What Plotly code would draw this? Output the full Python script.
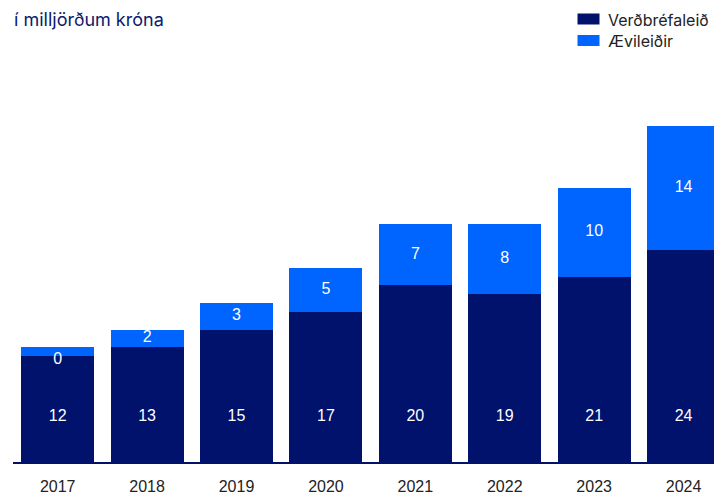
import plotly.graph_objects as go

years = ["2017", "2018", "2019", "2020", "2021", "2022", "2023", "2024"]
verdbref = [12, 13, 15, 17, 20, 19, 21, 24]
aevileidir = [1, 2, 3, 5, 7, 8, 10, 14]
verdbref_labels = ["12", "13", "15", "17", "20", "19", "21", "24"]
aevileidir_labels = ["0", "2", "3", "5", "7", "8", "10", "14"]
series_names = ["Verðbréfaleið", "Ævileiðir"]

DARK = "#00126B"
LIGHT = "#0064FF"
NAVY_TEXT = "#0B1A6E"
FONT = "Liberation Sans, Arial, sans-serif"
FONT2 = "Inter, Liberation Sans, sans-serif"

# The page body has an 8px margin; size the figure so it fills the window.
OFF = 8
W, H = 722 - OFF, 495 - OFF
ML, MR, MT, MB = 5, 0, 92, 33
PW, PH = W - ML - MR, H - MT - MB


def px_x(px):  # page pixel -> paper x
    return (px - OFF - ML) / PW


def px_y(py):  # page pixel -> paper y
    return (H - MB - (py - OFF)) / PH


fig = go.Figure()
fig.add_trace(go.Bar(x=years, y=verdbref, name=series_names[0],
                     marker=dict(color=DARK, line=dict(width=0)), hoverinfo="skip",
                     showlegend=False))
fig.add_trace(go.Bar(x=years, y=aevileidir, name=series_names[1],
                     marker=dict(color=LIGHT, line=dict(width=0)), hoverinfo="skip",
                     showlegend=False))

# labels for dark segments (placed at a fixed height near the bottom)
dark_label_y = [5.15] * len(years)
fig.add_trace(go.Scatter(x=years, y=dark_label_y, mode="text", text=verdbref_labels,
                         textfont=dict(color="white", size=16, family=FONT),
                         showlegend=False, hoverinfo="skip"))
# labels for light segments (centered in segment; thin segments drop below)
light_label_y = [d + a / 2 for d, a in zip(verdbref, aevileidir)]
light_pos = ["bottom center" if a < 1.5 else "middle center" for a in aevileidir]
fig.add_trace(go.Scatter(x=years, y=light_label_y, mode="text", text=aevileidir_labels,
                         textposition=light_pos,
                         textfont=dict(color="white", size=16, family=FONT),
                         showlegend=False, hoverinfo="skip"))

# custom legend
shapes = []
annotations = []
for i, (name, col) in enumerate(zip(series_names, [DARK, LIGHT])):
    cy = 19 + i * 21.5
    shapes.append(dict(type="rect", xref="paper", yref="paper",
                       x0=px_x(577.5), x1=px_x(599.5), y0=px_y(cy - 5.5), y1=px_y(cy + 5.5),
                       fillcolor=col, line=dict(width=0)))
    annotations.append(dict(text=name, xref="paper", yref="paper", x=px_x(606),
                            y=px_y(cy + 0.5), xanchor="left", yanchor="middle", showarrow=False,
                            font=dict(size=16, color="#222222", family=FONT2)))

annotations.append(dict(text="í milljörðum króna", xref="paper", yref="paper",
                        x=px_x(12), y=px_y(20), xanchor="left", yanchor="middle",
                        showarrow=False, font=dict(size=18, color=NAVY_TEXT, family=FONT2)))

fig.update_layout(
    width=W, height=H,
    margin=dict(l=ML, r=MR, t=MT, b=MB),
    barmode="stack", bargap=0.183,
    plot_bgcolor="white", paper_bgcolor="white",
    font=dict(family=FONT, color="#222222", size=16),
    showlegend=False,
    xaxis=dict(type="category", range=[-0.5, 7.43], showline=True, linecolor=DARK,
               linewidth=1.5, showgrid=False, zeroline=False, ticks="outside",
               ticklen=9, tickcolor="rgba(0,0,0,0)",
               tickfont=dict(size=16, color="#222222", family=FONT), fixedrange=True),
    yaxis=dict(range=[0, 41], visible=False, showgrid=False, zeroline=False, fixedrange=True),
    shapes=shapes,
    annotations=annotations,
)

fig.write_html("out.html")
